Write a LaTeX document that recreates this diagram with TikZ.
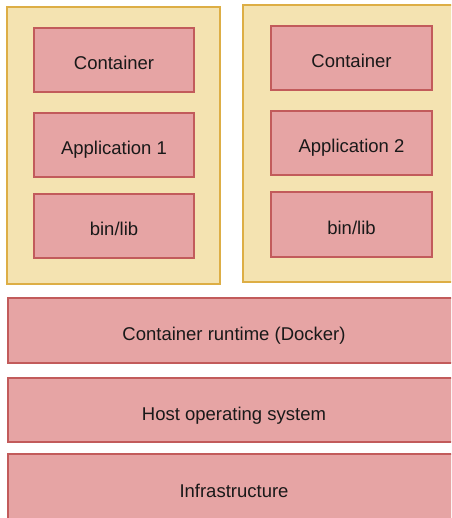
\documentclass[tikz,border=0pt]{standalone}
\usepackage{fontspec}
\setmainfont{Liberation Sans}
\usepackage{tikz}

\definecolor{podfill}{HTML}{F4E3B1}
\definecolor{podline}{HTML}{DDAE45}
\definecolor{layerfill}{HTML}{E6A4A4}
\definecolor{layerline}{HTML}{C25B5B}

\begin{document}
\begin{tikzpicture}[x=1pt,y=-1pt,line width=1.3pt,
  every node/.style={font=\fontsize{18.5}{22}\selectfont,text=black!90},
  pod/.style={draw=podline,fill=podfill,inner sep=0pt},
  layer/.style={draw=layerline,fill=layerfill,inner sep=0pt,
    text height=20pt,text depth=0pt}]
  \useasboundingbox (0,0) rectangle (451,518);
  \clip (0,0) rectangle (451,518);

  % Container boxes
  \node[pod,minimum width=213pt,minimum height=277pt] (podA) at (113.5,145.5) {};
  \node[pod,minimum width=212pt,minimum height=277pt] (podB) at (349,143.5) {};

  % Left stack
  \node[layer,minimum width=160pt,minimum height=64pt] (contA) at (114,60) {Container};
  \node[layer,minimum width=160pt,minimum height=64pt] (appA) at (114,145) {Application 1};
  \node[layer,minimum width=160pt,minimum height=64pt] (libA) at (114,226) {bin/lib};

  % Right stack
  \node[layer,minimum width=161pt,minimum height=64pt] (contB) at (351.5,58) {Container};
  \node[layer,minimum width=161pt,minimum height=64pt] (appB) at (351.5,143) {Application 2};
  \node[layer,minimum width=161pt,minimum height=65pt] (libB) at (351.5,224.5) {bin/lib};

  % Shared layers
  \node[layer,minimum width=452pt,minimum height=65pt] (runtime) at (234,330.5) {Container runtime (Docker)};
  \node[layer,minimum width=452pt,minimum height=64pt] (hostos) at (234,410) {Host operating system};
  \node[layer,minimum width=452pt,minimum height=66pt] (infra) at (234,487) {Infrastructure};
\end{tikzpicture}
\end{document}
